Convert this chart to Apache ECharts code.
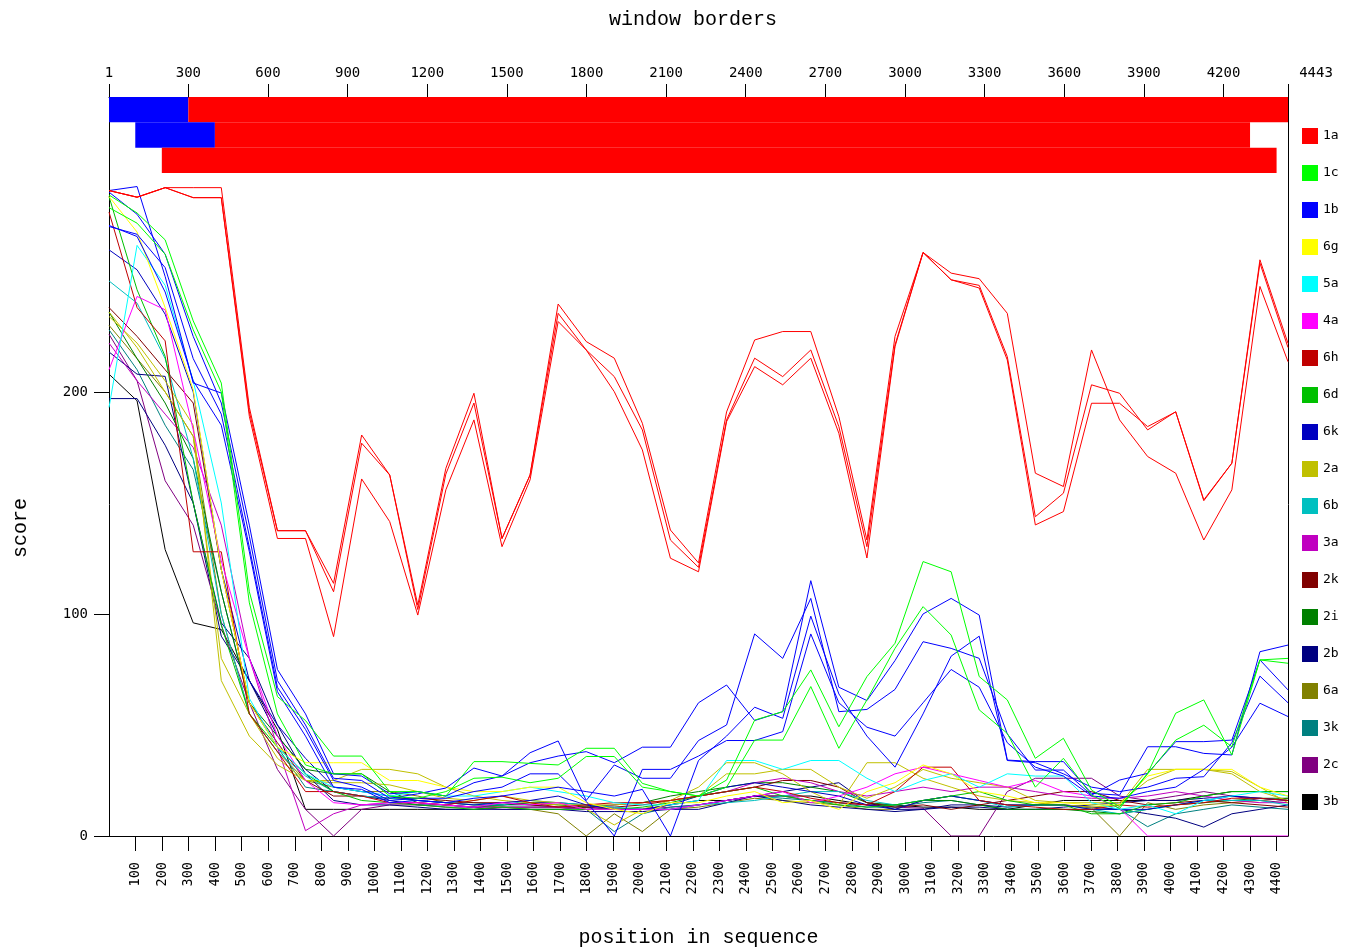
<!DOCTYPE html>
<html>
<head>
<meta charset="utf-8">
<title>window borders</title>
<script src="https://cdn.jsdelivr.net/npm/echarts@6.0.0/dist/echarts.min.js"></script>
<style>
  html, body { margin: 0; padding: 0; background: #fff; }
  #chart { width: 1358px; height: 950px; }
</style>
</head>
<body>
<div id="chart"></div>
<script>
// genotypes in legend order
const genotypes = ['1a', '1c', '1b', '6g', '5a', '4a', '6h', '6d', '6k', '2a', '6b', '3a', '2k', '2i', '2b', '6a', '3k', '2c', '3b'];

// sliding windows (43 per sequence)
const windows = [1, 2, 3, 4, 5, 6, 7, 8, 9, 10, 11, 12, 13, 14, 15, 16, 17, 18, 19, 20, 21, 22,
  23, 24, 25, 26, 27, 28, 29, 30, 31, 32, 33, 34, 35, 36, 37, 38, 39, 40, 41, 42, 43];

// axis ticks
const topTicks = [1, 300, 600, 900, 1200, 1500, 1800, 2100, 2400, 2700, 3000, 3300, 3600, 3900, 4200, 4443];
const bottomTicks = [100, 200, 300, 400, 500, 600, 700, 800, 900, 1000, 1100, 1200, 1300, 1400, 1500,
  1600, 1700, 1800, 1900, 2000, 2100, 2200, 2300, 2400, 2500, 2600, 2700, 2800, 2900, 3000, 3100,
  3200, 3300, 3400, 3500, 3600, 3700, 3800, 3900, 4000, 4100, 4200, 4300, 4400];
const scoreTicks = [0, 100, 200];

// window borders: row, start, end, genotype
const borderRow = [0, 0, 1, 1, 2];
const borderStart = [1, 300, 100, 400, 200];
const borderEnd = [300, 4443, 400, 4300, 4400];
const borderType = ['1b', '1a', '1b', '1a', '1a'];

// scores per window
const s1a_1 = [290.7, 287.7, 292, 292, 292, 193, 137.5, 137.5, 113.8, 180.6,
  162.6, 104, 165.6, 199.4, 134, 162.6, 239.6, 222.7, 215.2, 185.9,
  137.8, 123, 191, 223.4, 227.2, 227.2, 188.9, 133.3, 225, 262.8,
  253.5, 251, 235.4, 163.4, 157.4, 218.9, 187.4, 170.9, 163.4, 133.3,
  155.9, 247.5, 213.6];
const s1a_2 = [290.7, 287.7, 292, 287.5, 287.5, 191, 137.5, 137.5, 110, 176.9,
  162.6, 102, 163, 195, 134, 162.6, 235.4, 218.9, 206.9, 182.9,
  133.3, 121, 187.4, 215.2, 206.9, 218.9, 184.4, 130.3, 221.2, 262.8,
  250.5, 248, 215.9, 143.8, 154.4, 203.2, 199.4, 182.9, 191.1, 151.4,
  167.9, 259.5, 221.9];
const s1a_3 = [290.7, 287.7, 292, 287.5, 287.5, 189, 134, 134, 89.8, 160.8,
  141.6, 99.5, 155.9, 187.4, 130.3, 160.4, 231.7, 218.9, 200.1, 173.9,
  125.1, 119, 186.6, 211.4, 203.2, 215.2, 181.4, 125.2, 220.4, 262.8,
  250.5, 246.8, 214.4, 140.1, 146.1, 194.9, 194.9, 184.4, 191, 151,
  167.9, 258, 220];

const s1b_1 = [290.7, 292.5, 252, 204, 199.5, 140, 75, 55, 28, 27,
  19, 20, 18, 24, 27, 33, 36, 38, 33, 40,
  40, 60, 68, 52, 56, 115, 67, 61, 79, 100,
  107, 99.5, 34.2, 33.5, 33.5, 19.2, 18.4, 40.2, 40.2, 37.2,
  36.5, 83, 86];
const s1b_2 = [290, 280, 262, 225, 195, 135, 70, 50, 26, 25,
  17, 19, 21.6, 30.6, 27, 37.5, 42.8, 16, 32, 26,
  26, 43, 50, 91, 80, 107, 56, 57, 66, 87.5,
  84.5, 80, 46, 29.7, 29.7, 18.4, 25.2, 28.2, 42.5, 42.5,
  43.2, 79.3, 65.8];
const s1b_3 = [274.5, 271, 256, 215, 190, 130, 67, 48, 25, 22,
  16, 17, 17, 20, 22, 28, 28, 15.6, 0, 30,
  30, 36, 43, 43, 47, 91, 60, 49, 45, 60,
  75, 67, 42, 31, 27, 18, 17, 20, 22, 30,
  40, 59.8, 53.8];
const s1b_4 = [275, 270, 245, 205, 185, 128, 65, 45, 22, 21,
  15, 16, 15, 17, 18, 20, 22, 20, 18, 21,
  0, 34, 45, 58, 53, 99, 64, 45, 31, 55,
  81, 90, 34, 33, 28, 22, 20, 22, 26, 26.7,
  42, 72, 60];

const s1c_1 = [288.7, 280.6, 268.5, 232, 204, 110, 62.8, 52, 36, 36,
  20, 20, 18, 33.5, 33.5, 32.7, 32, 39.5, 39.5, 23.7,
  20, 18, 25.2, 52.2, 56, 74.8, 49.2, 71.8, 86.8, 123.6,
  119, 71.8, 61.3, 35, 44, 20.7, 13.2, 28.2, 55.3, 61.3,
  36.5, 79.3, 77.8];
const s1c_2 = [283, 276, 262, 228, 200, 105, 55, 32, 28, 28,
  18, 17, 20, 26, 26.5, 24, 26, 35.8, 35.8, 22,
  20, 18, 22, 43.2, 43.2, 67.3, 39.5, 61.3, 84.5, 103.3,
  90.5, 56.8, 46.2, 22, 35, 18.4, 12.4, 28, 43.2, 49.9,
  40.2, 79.3, 80];

const s6g = [288, 272, 238, 201, 120, 60, 40, 33, 33, 33,
  25, 25, 22, 20, 20, 22, 22, 15, 12, 10,
  15, 15, 18, 20, 15, 16, 12, 20, 24, 32,
  28, 20, 18, 15, 15, 14, 14, 27, 30, 30,
  30, 22, 18];
const s5a = [193, 266, 248, 205, 150, 62, 40, 28, 22, 20,
  18, 20, 18, 18, 20, 22, 20, 18, 15, 14,
  14, 16, 34, 34, 30, 34, 34, 26, 20, 25,
  28, 22, 28, 27, 27, 15, 12, 14, 10, 16,
  18, 20, 18];
const s4a = [210, 243, 237, 183, 124, 80, 45, 25, 15, 14,
  15, 15, 14, 13, 15, 14, 15, 12, 12, 12,
  12, 14, 16, 18, 20, 15, 18, 22, 28, 31,
  28, 25, 22, 25, 20, 18, 12.6, 0, 0, 0,
  0, 0, 0];
const s6h = [281, 238, 223, 128, 128, 55, 38, 20, 20, 18,
  15, 15, 14, 16, 18, 15, 13, 14, 15, 15,
  16, 18, 20, 22, 20, 17, 15, 14, 20, 31,
  31, 16, 14, 13, 12, 12, 14, 13, 14, 15,
  17, 17, 16];
const s6d = [288, 246, 216, 150, 95, 55, 40, 28, 20, 16,
  15, 14, 13, 12, 13, 12, 12, 12, 12, 13,
  15, 18, 20, 22, 18, 16, 14, 13, 14, 16,
  18, 20, 16, 14, 14, 10, 10, 14, 15, 18,
  20, 20, 20];
const s6k = [264, 255, 235, 200, 120, 70, 50, 35, 22, 20,
  18, 16, 15, 14, 15, 16, 18, 14, 12, 12,
  14, 18, 22, 24, 22, 20, 18, 14, 12, 16,
  18, 16, 14, 14, 14, 12, 12, 12, 14, 16,
  18, 17, 16];
const s2a_1 = [236, 220, 200, 180, 80, 55, 35, 25, 24, 24,
  23, 20, 17, 16, 18, 16, 15, 12, 5, 12,
  16, 18, 28, 28, 30, 30, 22, 17, 22, 30,
  26, 24, 22, 16, 15, 15, 15, 25, 30, 30,
  29, 22, 15];
const s2a_2 = [234, 222, 205, 185, 70, 45, 32, 25, 25, 30,
  30, 28, 22, 18, 16, 15, 14, 14, 14, 15,
  16, 22, 33, 33, 28, 20, 14, 33, 33, 26,
  22, 18, 16, 15, 14, 13, 14, 30, 30, 30,
  28, 20, 16];
const s6b = [250, 240, 215, 170, 100, 55, 38, 27, 20, 18,
  17, 16, 15, 14, 14, 16, 15, 14, 13, 12,
  12, 14, 15, 16, 18, 20, 20, 16, 14, 16,
  18, 16, 13, 14, 14, 12, 10, 12, 14, 16,
  16, 16, 14];
const s3a = [222, 205, 190, 175, 140, 80, 40, 2.4, 10, 14,
  15, 15, 14, 13, 13, 13, 13, 12, 14, 15,
  16, 18, 20, 24, 26, 24, 20, 18, 20, 22,
  20, 22, 22, 20, 18, 17, 17, 18, 20, 18,
  16, 15, 15];
const s2k = [238, 225, 210, 195, 120, 60, 42, 25, 18, 18,
  17, 17, 16, 15, 15, 14, 13, 13, 13, 14,
  16, 18, 20, 22, 25, 25, 22, 15, 13, 14,
  12, 14, 16, 18, 20, 20, 16, 14, 15, 16,
  15, 14, 13];
const s2i = [236, 215, 195, 170, 110, 60, 45, 30, 28, 28,
  20, 15, 14, 13, 14, 15, 14, 13, 14, 15,
  18, 20, 22, 24, 24, 22, 20, 15, 14, 16,
  16, 14, 12, 12, 12, 11, 10, 12, 14, 15,
  16, 17, 17];
const s2b_1 = [218, 208, 207, 150, 90, 70, 45, 30, 20, 18,
  16, 14, 14, 13, 14, 15, 15, 14, 12, 12,
  12, 12, 15, 18, 20, 22, 24, 15, 12, 12,
  14, 14, 13, 14, 14, 13, 12, 10, 8, 4,
  10, 12, 14];
const s2b_2 = [197, 197, 176, 150, 96, 80, 50, 28, 16, 14,
  14, 13, 12, 12, 12, 12, 12, 11, 11, 11,
  12, 14, 16, 18, 16, 14, 13, 12, 11, 12,
  13, 13, 12, 12, 13, 14, 15, 16, 16, 17,
  18, 17, 16];
const s6a = [230, 215, 200, 180, 100, 55, 38, 25, 22, 20,
  20, 18, 15, 14, 13, 12, 10, 0, 10, 2,
  12, 13, 15, 17, 16, 15, 14, 12, 12, 16,
  18, 16, 14, 14, 14, 12.6, 0, 15, 12, 14,
  15, 16, 17];
const s3k = [228, 210, 185, 165, 110, 60, 40, 22, 20, 18,
  17, 16, 15, 15, 14, 14, 13, 12, 2, 10,
  13, 14, 16, 18, 17, 16, 15, 13, 13, 15,
  16, 14, 12, 12, 12, 12, 12, 4.2, 10, 12,
  14, 13, 12];
const s2c = [226, 205, 160, 140, 95, 60, 30, 12, 0, 12,
  14, 14, 13, 13, 12, 12, 12, 13, 12, 12,
  13, 14, 16, 18, 18, 16, 15, 14, 13, 12.5,
  0, 0, 20, 26, 26, 26, 18, 16, 18, 20,
  18, 16, 15];
const s3b = [208, 196, 129, 96, 93, 70, 48, 12, 12, 12,
  12, 12, 12, 12, 13, 13, 13, 13, 12, 12,
  14, 16, 16, 18, 18, 18, 16, 14, 14, 13,
  13, 12, 12, 14, 16, 16, 16, 16, 16, 18,
  20, 20, 20];

// one entry per drawn line; several lines can share a genotype
const lines = [
  ['3b', s3b], ['2c', s2c], ['3k', s3k], ['6a', s6a], ['2b', s2b_1], ['2b', s2b_2],
  ['2i', s2i], ['2k', s2k], ['3a', s3a], ['6b', s6b], ['2a', s2a_1], ['2a', s2a_2],
  ['6k', s6k], ['6d', s6d], ['6h', s6h], ['4a', s4a], ['5a', s5a], ['6g', s6g],
  ['1b', s1b_1], ['1b', s1b_2], ['1b', s1b_3], ['1b', s1b_4],
  ['1c', s1c_1], ['1c', s1c_2],
  ['1a', s1a_1], ['1a', s1a_2], ['1a', s1a_3]
];

const colors = {
  '1a': '#ff0000', '1c': '#00ff00', '1b': '#0000ff', '6g': '#ffff00', '5a': '#00ffff',
  '4a': '#ff00ff', '6h': '#c00000', '6d': '#00c000', '6k': '#0000c0', '2a': '#c0c000',
  '6b': '#00c0c0', '3a': '#c000c0', '2k': '#800000', '2i': '#008000', '2b': '#000080',
  '6a': '#808000', '3k': '#008080', '2c': '#800080', '3b': '#000000'
};

const monoFont = 'DejaVu Sans Mono';
const titleFont = 'Liberation Mono';
const black = { color: '#000', width: 1 };

const chart = echarts.init(document.getElementById('chart'), null, { renderer: 'canvas' });

const borderData = borderRow.map((row, i) => ({
  value: [borderStart[i], borderEnd[i], row],
  itemStyle: { color: colors[borderType[i]] }
}));

const lineSeries = lines.map(([name, data]) => ({
  name,
  type: 'line',
  xAxisIndex: 2,
  yAxisIndex: 2,
  data,
  symbol: 'none',
  color: colors[name],
  lineStyle: { width: 1, color: colors[name] },
  emphasis: { disabled: true },
  silent: true
}));

const option = {
  backgroundColor: '#fff',
  animation: false,
  title: {
    text: 'window borders',
    left: 604,
    top: 5,
    textStyle: { fontFamily: titleFont, fontSize: 20, fontWeight: 'normal', color: '#000' }
  },
  graphic: [{
    type: 'text',
    x: 21,
    y: 528,
    rotation: Math.PI / 2,
    style: {
      text: 'score',
      font: '20px "Liberation Mono"',
      fill: '#000',
      align: 'center',
      verticalAlign: 'middle'
    }
  }],
  legend: {
    data: genotypes,
    orient: 'vertical',
    left: 1302,
    top: 128,
    padding: 0,
    icon: 'rect',
    itemWidth: 16,
    itemHeight: 16,
    itemGap: 21,
    textStyle: { fontFamily: monoFont, fontSize: 13, color: '#000' },
    selectedMode: false
  },
  grid: [
    { left: 109, right: 70, top: 97, height: 76, outerBoundsMode: 'none', containLabel: false },
    { left: 109, right: 70, top: 173, bottom: 114, outerBoundsMode: 'none', containLabel: false }
  ],
  xAxis: [
    {
      gridIndex: 0,
      type: 'value',
      position: 'top',
      min: 1,
      max: 4443,
      axisLine: { show: true, lineStyle: black },
      axisTick: { show: true, length: 13, lineStyle: black, customValues: topTicks },
      axisLabel: {
        customValues: topTicks,
        margin: 17,
        fontFamily: monoFont,
        fontSize: 14,
        color: '#000',
        formatter: v => (v === 4443 ? '{last|4443}' : String(v)),
        rich: { last: { fontFamily: monoFont, fontSize: 14, color: '#000', padding: [0, 0, 0, 56] } }
      },
      splitLine: { show: false }
    },
    {
      gridIndex: 1,
      type: 'value',
      position: 'bottom',
      min: 0,
      max: 4443,
      name: 'position in sequence',
      nameLocation: 'middle',
      nameGap: 92,
      nameTextStyle: { fontFamily: titleFont, fontSize: 20, color: '#000' },
      axisLine: { show: true, lineStyle: black },
      axisTick: { show: true, length: 15, lineStyle: black, customValues: bottomTicks },
      axisLabel: {
        customValues: bottomTicks,
        rotate: 90,
        margin: 26,
        fontFamily: monoFont,
        fontSize: 13.5,
        color: '#000',
        formatter: v => String(v)
      },
      splitLine: { show: false }
    },
    {
      gridIndex: 1,
      type: 'category',
      data: windows,
      boundaryGap: false,
      show: false
    }
  ],
  yAxis: [
    {
      gridIndex: 0,
      type: 'category',
      data: ['r1', 'r2', 'r3'],
      inverse: true,
      axisLine: { show: true, lineStyle: black },
      axisTick: { show: false },
      axisLabel: { show: false },
      splitLine: { show: false }
    },
    {
      gridIndex: 0,
      type: 'category',
      position: 'right',
      data: ['r1', 'r2', 'r3'],
      inverse: true,
      axisLine: { show: true, lineStyle: black },
      axisTick: { show: false },
      axisLabel: { show: false },
      splitLine: { show: false }
    },
    {
      gridIndex: 1,
      type: 'value',
      min: 0,
      max: 298.6,
      axisLine: { show: true, lineStyle: black },
      axisTick: { show: true, length: 15, lineStyle: black, customValues: scoreTicks },
      axisLabel: {
        customValues: scoreTicks,
        margin: 21,
        fontFamily: monoFont,
        fontSize: 14,
        color: '#000'
      },
      splitLine: { show: false }
    },
    {
      gridIndex: 1,
      type: 'value',
      position: 'right',
      min: 0,
      max: 298.6,
      axisLine: { show: true, lineStyle: black },
      axisTick: { show: false },
      axisLabel: { show: false },
      splitLine: { show: false }
    }
  ],
  series: [
    {
      name: 'window borders',
      type: 'custom',
      xAxisIndex: 0,
      yAxisIndex: 0,
      silent: true,
      encode: { x: [0, 1], y: 2 },
      data: borderData,
      renderItem: (params, api) => {
        const a = api.coord([api.value(0), api.value(2)]);
        const b = api.coord([api.value(1), api.value(2)]);
        const h = api.size([0, 1])[1];
        return {
          type: 'rect',
          shape: { x: a[0], y: a[1] - h / 2, width: b[0] - a[0], height: h },
          style: { fill: api.visual('color') }
        };
      }
    },
    ...lineSeries
  ]
};

chart.setOption(option);
</script>
</body>
</html>
